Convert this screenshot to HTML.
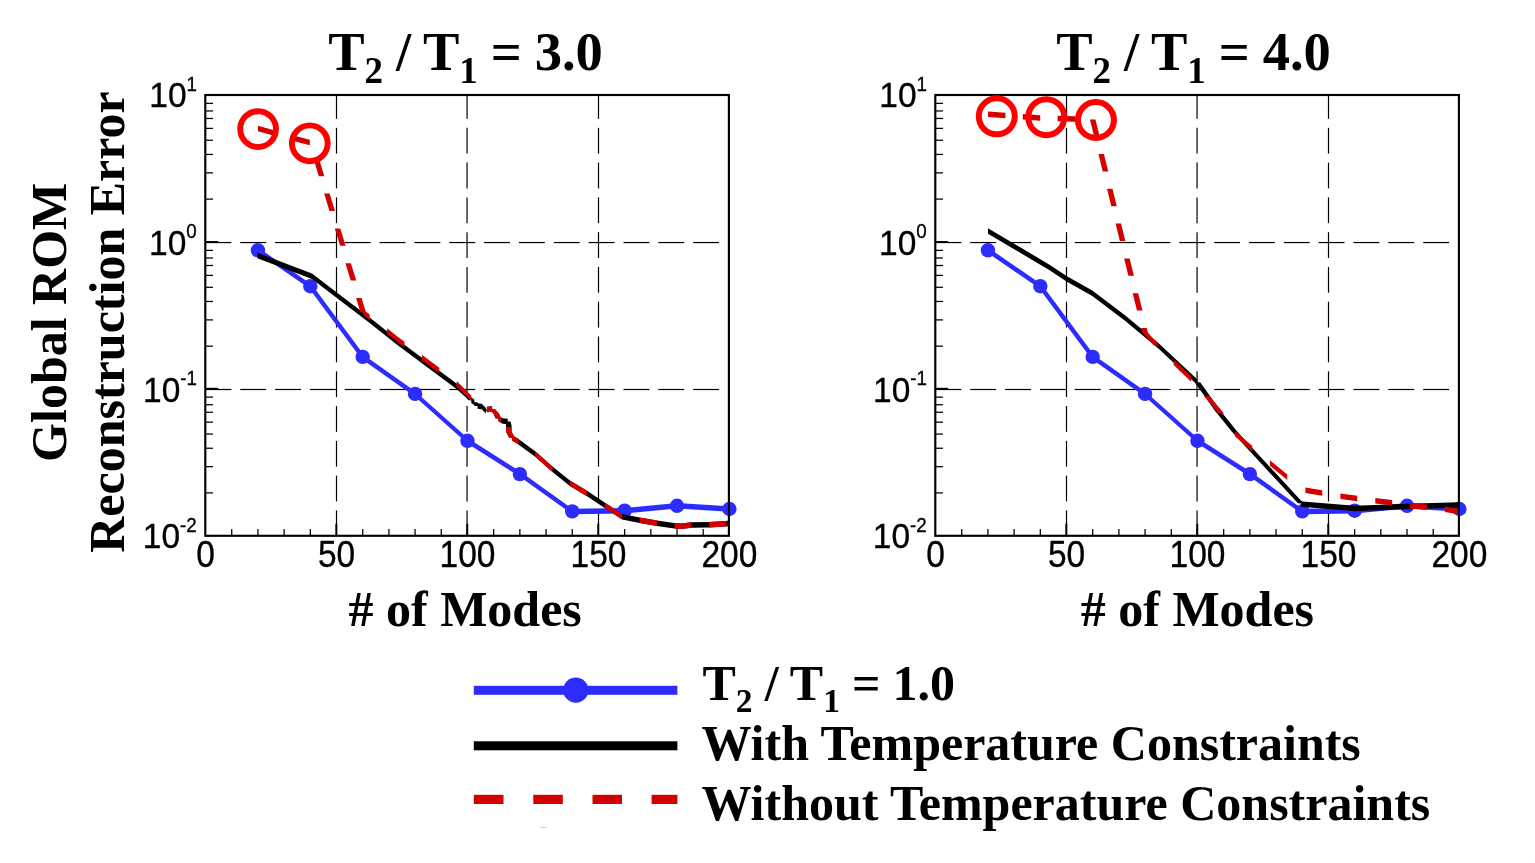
<!DOCTYPE html>
<html lang="en">
<head>
<meta charset="utf-8">
<title>Global ROM Reconstruction Error vs # of Modes</title>
<style>
html,body{margin:0;padding:0;background:#fff;}
body{width:1535px;height:863px;overflow:hidden;}
svg{display:block;}
text{fill:#000;}
</style>
</head>
<body>
<svg width="1535" height="863" viewBox="0 0 1535 863">
<rect x="0" y="0" width="1535" height="863" fill="#fff"/>
<g stroke="#000" stroke-width="1.2" fill="none"><line x1="336.5" y1="510.4" x2="336.5" y2="535.8"/><line x1="336.5" y1="475.62" x2="336.5" y2="501.42"/><line x1="336.5" y1="440.84" x2="336.5" y2="466.64"/><line x1="336.5" y1="406.06" x2="336.5" y2="431.86"/><line x1="336.5" y1="371.28" x2="336.5" y2="397.08"/><line x1="336.5" y1="336.5" x2="336.5" y2="362.3"/><line x1="336.5" y1="301.72" x2="336.5" y2="327.52"/><line x1="336.5" y1="266.94" x2="336.5" y2="292.74"/><line x1="336.5" y1="232.16" x2="336.5" y2="257.96"/><line x1="336.5" y1="197.38" x2="336.5" y2="223.18"/><line x1="336.5" y1="162.6" x2="336.5" y2="188.4"/><line x1="336.5" y1="127.82" x2="336.5" y2="153.62"/><line x1="336.5" y1="95" x2="336.5" y2="118.84"/><line x1="467.05" y1="510.4" x2="467.05" y2="535.8"/><line x1="467.05" y1="475.62" x2="467.05" y2="501.42"/><line x1="467.05" y1="440.84" x2="467.05" y2="466.64"/><line x1="467.05" y1="406.06" x2="467.05" y2="431.86"/><line x1="467.05" y1="371.28" x2="467.05" y2="397.08"/><line x1="467.05" y1="336.5" x2="467.05" y2="362.3"/><line x1="467.05" y1="301.72" x2="467.05" y2="327.52"/><line x1="467.05" y1="266.94" x2="467.05" y2="292.74"/><line x1="467.05" y1="232.16" x2="467.05" y2="257.96"/><line x1="467.05" y1="197.38" x2="467.05" y2="223.18"/><line x1="467.05" y1="162.6" x2="467.05" y2="188.4"/><line x1="467.05" y1="127.82" x2="467.05" y2="153.62"/><line x1="467.05" y1="95" x2="467.05" y2="118.84"/><line x1="598.5" y1="510.4" x2="598.5" y2="535.8"/><line x1="598.5" y1="475.62" x2="598.5" y2="501.42"/><line x1="598.5" y1="440.84" x2="598.5" y2="466.64"/><line x1="598.5" y1="406.06" x2="598.5" y2="431.86"/><line x1="598.5" y1="371.28" x2="598.5" y2="397.08"/><line x1="598.5" y1="336.5" x2="598.5" y2="362.3"/><line x1="598.5" y1="301.72" x2="598.5" y2="327.52"/><line x1="598.5" y1="266.94" x2="598.5" y2="292.74"/><line x1="598.5" y1="232.16" x2="598.5" y2="257.96"/><line x1="598.5" y1="197.38" x2="598.5" y2="223.18"/><line x1="598.5" y1="162.6" x2="598.5" y2="188.4"/><line x1="598.5" y1="127.82" x2="598.5" y2="153.62"/><line x1="598.5" y1="95" x2="598.5" y2="118.84"/><line x1="205.4" y1="242.55" x2="231.3" y2="242.55"/><line x1="240.24" y1="242.55" x2="266.14" y2="242.55"/><line x1="275.08" y1="242.55" x2="300.98" y2="242.55"/><line x1="309.92" y1="242.55" x2="335.82" y2="242.55"/><line x1="344.76" y1="242.55" x2="370.66" y2="242.55"/><line x1="379.6" y1="242.55" x2="405.5" y2="242.55"/><line x1="414.44" y1="242.55" x2="440.34" y2="242.55"/><line x1="449.28" y1="242.55" x2="475.18" y2="242.55"/><line x1="484.12" y1="242.55" x2="510.02" y2="242.55"/><line x1="518.96" y1="242.55" x2="544.86" y2="242.55"/><line x1="553.8" y1="242.55" x2="579.7" y2="242.55"/><line x1="588.64" y1="242.55" x2="614.54" y2="242.55"/><line x1="623.48" y1="242.55" x2="649.38" y2="242.55"/><line x1="658.32" y1="242.55" x2="684.22" y2="242.55"/><line x1="693.16" y1="242.55" x2="719.06" y2="242.55"/><line x1="728" y1="242.55" x2="728.9" y2="242.55"/><line x1="205.4" y1="389.5" x2="231.3" y2="389.5"/><line x1="240.24" y1="389.5" x2="266.14" y2="389.5"/><line x1="275.08" y1="389.5" x2="300.98" y2="389.5"/><line x1="309.92" y1="389.5" x2="335.82" y2="389.5"/><line x1="344.76" y1="389.5" x2="370.66" y2="389.5"/><line x1="379.6" y1="389.5" x2="405.5" y2="389.5"/><line x1="414.44" y1="389.5" x2="440.34" y2="389.5"/><line x1="449.28" y1="389.5" x2="475.18" y2="389.5"/><line x1="484.12" y1="389.5" x2="510.02" y2="389.5"/><line x1="518.96" y1="389.5" x2="544.86" y2="389.5"/><line x1="553.8" y1="389.5" x2="579.7" y2="389.5"/><line x1="588.64" y1="389.5" x2="614.54" y2="389.5"/><line x1="623.48" y1="389.5" x2="649.38" y2="389.5"/><line x1="658.32" y1="389.5" x2="684.22" y2="389.5"/><line x1="693.16" y1="389.5" x2="719.06" y2="389.5"/><line x1="728" y1="389.5" x2="728.9" y2="389.5"/></g>
<g stroke="#000" stroke-width="1.25" fill="none"><line x1="231.74" y1="535.8" x2="231.74" y2="529.1"/><line x1="257.94" y1="535.8" x2="257.94" y2="529.1"/><line x1="284.13" y1="535.8" x2="284.13" y2="529.1"/><line x1="310.32" y1="535.8" x2="310.32" y2="529.1"/><line x1="336.31" y1="535.8" x2="336.31" y2="523.7" stroke-width="1.9"/><line x1="362.71" y1="535.8" x2="362.71" y2="529.1"/><line x1="388.9" y1="535.8" x2="388.9" y2="529.1"/><line x1="415.09" y1="535.8" x2="415.09" y2="529.1"/><line x1="441.29" y1="535.8" x2="441.29" y2="529.1"/><line x1="467.28" y1="535.8" x2="467.28" y2="523.7" stroke-width="1.9"/><line x1="493.67" y1="535.8" x2="493.67" y2="529.1"/><line x1="519.87" y1="535.8" x2="519.87" y2="529.1"/><line x1="546.06" y1="535.8" x2="546.06" y2="529.1"/><line x1="572.25" y1="535.8" x2="572.25" y2="529.1"/><line x1="598.24" y1="535.8" x2="598.24" y2="523.7" stroke-width="1.9"/><line x1="624.64" y1="535.8" x2="624.64" y2="529.1"/><line x1="650.83" y1="535.8" x2="650.83" y2="529.1"/><line x1="677.02" y1="535.8" x2="677.02" y2="529.1"/><line x1="703.22" y1="535.8" x2="703.22" y2="529.1"/><line x1="205.3" y1="103.34" x2="213" y2="103.34"/><line x1="205.3" y1="110.95" x2="213" y2="110.95"/><line x1="205.3" y1="118.46" x2="213" y2="118.46"/><line x1="205.3" y1="128.38" x2="213" y2="128.38"/><line x1="205.3" y1="140.25" x2="213" y2="140.25"/><line x1="205.3" y1="154.44" x2="213" y2="154.44"/><line x1="205.3" y1="172.87" x2="213" y2="172.87"/><line x1="205.3" y1="199.11" x2="213" y2="199.11"/><line x1="205.3" y1="242.03" x2="218.2" y2="242.03" stroke-width="2"/><line x1="205.3" y1="250.37" x2="213" y2="250.37"/><line x1="205.3" y1="257.98" x2="213" y2="257.98"/><line x1="205.3" y1="265.49" x2="213" y2="265.49"/><line x1="205.3" y1="275.41" x2="213" y2="275.41"/><line x1="205.3" y1="287.28" x2="213" y2="287.28"/><line x1="205.3" y1="301.47" x2="213" y2="301.47"/><line x1="205.3" y1="319.9" x2="213" y2="319.9"/><line x1="205.3" y1="346.14" x2="213" y2="346.14"/><line x1="205.3" y1="388.8" x2="218.2" y2="388.8" stroke-width="2"/><line x1="205.3" y1="397.14" x2="213" y2="397.14"/><line x1="205.3" y1="404.75" x2="213" y2="404.75"/><line x1="205.3" y1="412.26" x2="213" y2="412.26"/><line x1="205.3" y1="422.18" x2="213" y2="422.18"/><line x1="205.3" y1="434.05" x2="213" y2="434.05"/><line x1="205.3" y1="448.24" x2="213" y2="448.24"/><line x1="205.3" y1="466.67" x2="213" y2="466.67"/><line x1="205.3" y1="492.91" x2="213" y2="492.91"/></g>
<path d="M310.32 283.45 L310.32 288.95 L257.94 253.05 L257.94 247.55Z M307.57 286.2 L313.07 286.2 L365.46 356.9 L359.96 356.9Z M415.09 391.15 L415.09 396.65 L362.71 359.65 L362.71 354.15Z M467.48 438.05 L467.48 443.55 L415.09 396.65 L415.09 391.15Z M519.87 471.35 L519.87 476.85 L467.48 443.55 L467.48 438.05Z M572.25 508.65 L572.25 514.15 L519.87 476.85 L519.87 471.35Z M624.64 507.95 L624.64 513.45 L572.25 514.15 L572.25 508.65Z M677.02 503.05 L677.02 508.55 L624.64 513.45 L624.64 507.95Z M729.41 506.25 L729.41 511.75 L677.02 508.55 L677.02 503.05Z" fill="#2c2cff"/>
<g fill="#2c2cff"><circle cx="257.94" cy="250.3" r="7.2"/><circle cx="310.32" cy="286.2" r="7.2"/><circle cx="362.71" cy="356.9" r="7.2"/><circle cx="415.09" cy="393.9" r="7.2"/><circle cx="467.48" cy="440.8" r="7.2"/><circle cx="519.87" cy="474.1" r="7.2"/><circle cx="572.25" cy="511.4" r="7.2"/><circle cx="624.64" cy="510.7" r="7.2"/><circle cx="677.02" cy="505.8" r="7.2"/><circle cx="729.41" cy="509" r="7.2"/></g>
<path d="M312 273.45 L312 278.95 L257.4 258.25 L257.4 252.75Z M336.2 291.95 L336.2 297.45 L312 278.95 L312 273.45Z M368.4 316.45 L368.4 321.95 L336.2 297.45 L336.2 291.95Z M397.7 339.65 L397.7 345.15 L368.4 321.95 L368.4 316.45Z M456.2 383.15 L456.2 388.65 L397.7 345.15 L397.7 339.65Z M467.1 393.05 L467.1 398.55 L456.2 388.65 L456.2 383.15Z M464.35 395.8 L469.85 395.8 L474.05 400.2 L468.55 400.2Z M474.4 399.55 L474.4 405.05 L471.3 402.95 L471.3 397.45Z M471.65 402.3 L477.15 402.3 L480.25 406 L474.75 406Z M481.7 403.75 L481.7 409.25 L477.5 408.75 L477.5 403.25Z M485.9 407.95 L485.9 413.45 L481.7 409.25 L481.7 403.75Z M484.15 409.6 L489.65 409.6 L488.65 410.7 L483.15 410.7Z M492.1 406.35 L492.1 411.85 L486.9 412.35 L486.9 406.85Z M489.35 409.1 L494.85 409.1 L499.05 413.8 L493.55 413.8Z M493.55 413.8 L499.05 413.8 L501.15 418.5 L495.65 418.5Z M502.6 418.35 L502.6 423.85 L498.4 421.25 L498.4 415.75Z M507.8 418.85 L507.8 424.35 L502.6 423.85 L502.6 418.35Z M505.05 421.6 L510.55 421.6 L511.55 425.8 L506.05 425.8Z M506.05 425.8 L511.55 425.8 L511.55 431.5 L506.05 431.5Z M506.05 431.5 L511.55 431.5 L514.65 437.8 L509.15 437.8Z M517.4 438.15 L517.4 443.65 L511.9 440.55 L511.9 435.05Z M535.2 451.25 L535.2 456.75 L517.4 443.65 L517.4 438.15Z M552.8 466.85 L552.8 472.35 L535.2 456.75 L535.2 451.25Z M569.9 480.55 L569.9 486.05 L552.8 472.35 L552.8 466.85Z M587 490.85 L587 496.35 L569.9 486.05 L569.9 480.55Z M604.7 502.45 L604.7 507.95 L587 496.35 L587 490.85Z M622.1 513.95 L622.1 519.45 L604.7 507.95 L604.7 502.45Z M639.6 517.55 L639.6 523.05 L622.1 519.45 L622.1 513.95Z M657 520.55 L657 526.05 L639.6 523.05 L639.6 517.55Z M674.2 522.95 L674.2 528.45 L657 526.05 L657 520.55Z M680.9 523.45 L680.9 528.95 L674.2 528.45 L674.2 522.95Z M691.6 522.15 L691.6 527.65 L680.9 528.95 L680.9 523.45Z M709.2 521.95 L709.2 527.45 L691.6 527.65 L691.6 522.15Z M728 520.85 L728 526.35 L709.2 527.45 L709.2 521.95Z" fill="#000"/>
<path d="M275 130.45 L275 135.95 L257.9 131.35 L257.9 125.85Z M309.8 139.82 L309.8 145.32 L292.4 140.64 L292.4 135.14Z M313.48 158.8 L318.98 158.8 L324.31 176.2 L318.81 176.2Z M324.13 193.6 L329.63 193.6 L334.96 211 L329.46 211Z M334.78 228.4 L340.28 228.4 L345.6 245.8 L340.1 245.8Z M345.43 263.2 L350.93 263.2 L356.25 280.6 L350.75 280.6Z M356.07 298 L361.57 298 L365.95 312.3 L360.45 312.3Z M368.4 313.45 L368.4 318.95 L363.2 315.05 L363.2 309.55Z M369.7 314.48 L369.7 319.98 L368.4 318.95 L368.4 313.45Z M397.7 336.65 L397.7 342.15 L387.1 333.76 L387.1 328.26Z M404.5 341.75 L404.5 347.25 L397.7 342.15 L397.7 336.65Z M439.3 367.87 L439.3 373.37 L421.9 360.31 L421.9 354.81Z M471.3 395.45 L471.3 400.95 L456.7 386.54 L456.7 381.04Z M492.1 406.35 L492.1 411.85 L486.9 412.35 L486.9 406.85Z M489.35 409.1 L494.85 409.1 L499.05 413.8 L493.55 413.8Z M493.55 413.8 L499.05 413.8 L501.15 418.5 L495.65 418.5Z M501.2 417.48 L501.2 422.98 L498.4 421.25 L498.4 415.75Z M505.85 427 L511.35 427 L511.55 431.5 L506.05 431.5Z M506.05 431.5 L511.55 431.5 L514.65 437.8 L509.15 437.8Z M517.4 438.15 L517.4 443.65 L511.9 440.55 L511.9 435.05Z M518.5 438.74 L518.5 444.24 L517.4 443.65 L517.4 438.15Z M552.6 466.67 L552.6 472.17 L535.2 456.75 L535.2 451.25Z M587 490.85 L587 496.35 L570 486.11 L570 480.61Z M622.1 513.95 L622.1 519.45 L604.8 508.02 L604.8 502.52Z M657 520.55 L657 526.05 L639.6 523.05 L639.6 517.55Z M680.9 523.45 L680.9 528.95 L674.4 528.46 L674.4 522.96Z M691.6 522.15 L691.6 527.65 L680.9 528.95 L680.9 523.45Z M726.6 520.93 L726.6 526.43 L709.2 527.45 L709.2 521.95Z" fill="#d20000"/>
<rect x="205.3" y="95" width="523.6" height="440.8" fill="none" stroke="#000" stroke-width="2.15"/>
<g fill="none" stroke="#ff0000" stroke-width="5.9"><circle cx="258.1" cy="129.1" r="17.9"/><circle cx="309.8" cy="143.3" r="17.9"/></g>
<g stroke="#000" stroke-width="1.2" fill="none"><line x1="1066.5" y1="510.4" x2="1066.5" y2="535.8"/><line x1="1066.5" y1="475.62" x2="1066.5" y2="501.42"/><line x1="1066.5" y1="440.84" x2="1066.5" y2="466.64"/><line x1="1066.5" y1="406.06" x2="1066.5" y2="431.86"/><line x1="1066.5" y1="371.28" x2="1066.5" y2="397.08"/><line x1="1066.5" y1="336.5" x2="1066.5" y2="362.3"/><line x1="1066.5" y1="301.72" x2="1066.5" y2="327.52"/><line x1="1066.5" y1="266.94" x2="1066.5" y2="292.74"/><line x1="1066.5" y1="232.16" x2="1066.5" y2="257.96"/><line x1="1066.5" y1="197.38" x2="1066.5" y2="223.18"/><line x1="1066.5" y1="162.6" x2="1066.5" y2="188.4"/><line x1="1066.5" y1="127.82" x2="1066.5" y2="153.62"/><line x1="1066.5" y1="95" x2="1066.5" y2="118.84"/><line x1="1197.05" y1="510.4" x2="1197.05" y2="535.8"/><line x1="1197.05" y1="475.62" x2="1197.05" y2="501.42"/><line x1="1197.05" y1="440.84" x2="1197.05" y2="466.64"/><line x1="1197.05" y1="406.06" x2="1197.05" y2="431.86"/><line x1="1197.05" y1="371.28" x2="1197.05" y2="397.08"/><line x1="1197.05" y1="336.5" x2="1197.05" y2="362.3"/><line x1="1197.05" y1="301.72" x2="1197.05" y2="327.52"/><line x1="1197.05" y1="266.94" x2="1197.05" y2="292.74"/><line x1="1197.05" y1="232.16" x2="1197.05" y2="257.96"/><line x1="1197.05" y1="197.38" x2="1197.05" y2="223.18"/><line x1="1197.05" y1="162.6" x2="1197.05" y2="188.4"/><line x1="1197.05" y1="127.82" x2="1197.05" y2="153.62"/><line x1="1197.05" y1="95" x2="1197.05" y2="118.84"/><line x1="1328.5" y1="510.4" x2="1328.5" y2="535.8"/><line x1="1328.5" y1="475.62" x2="1328.5" y2="501.42"/><line x1="1328.5" y1="440.84" x2="1328.5" y2="466.64"/><line x1="1328.5" y1="406.06" x2="1328.5" y2="431.86"/><line x1="1328.5" y1="371.28" x2="1328.5" y2="397.08"/><line x1="1328.5" y1="336.5" x2="1328.5" y2="362.3"/><line x1="1328.5" y1="301.72" x2="1328.5" y2="327.52"/><line x1="1328.5" y1="266.94" x2="1328.5" y2="292.74"/><line x1="1328.5" y1="232.16" x2="1328.5" y2="257.96"/><line x1="1328.5" y1="197.38" x2="1328.5" y2="223.18"/><line x1="1328.5" y1="162.6" x2="1328.5" y2="188.4"/><line x1="1328.5" y1="127.82" x2="1328.5" y2="153.62"/><line x1="1328.5" y1="95" x2="1328.5" y2="118.84"/><line x1="935.4" y1="242.55" x2="961.3" y2="242.55"/><line x1="970.24" y1="242.55" x2="996.14" y2="242.55"/><line x1="1005.08" y1="242.55" x2="1030.98" y2="242.55"/><line x1="1039.92" y1="242.55" x2="1065.82" y2="242.55"/><line x1="1074.76" y1="242.55" x2="1100.66" y2="242.55"/><line x1="1109.6" y1="242.55" x2="1135.5" y2="242.55"/><line x1="1144.44" y1="242.55" x2="1170.34" y2="242.55"/><line x1="1179.28" y1="242.55" x2="1205.18" y2="242.55"/><line x1="1214.12" y1="242.55" x2="1240.02" y2="242.55"/><line x1="1248.96" y1="242.55" x2="1274.86" y2="242.55"/><line x1="1283.8" y1="242.55" x2="1309.7" y2="242.55"/><line x1="1318.64" y1="242.55" x2="1344.54" y2="242.55"/><line x1="1353.48" y1="242.55" x2="1379.38" y2="242.55"/><line x1="1388.32" y1="242.55" x2="1414.22" y2="242.55"/><line x1="1423.16" y1="242.55" x2="1449.06" y2="242.55"/><line x1="1458" y1="242.55" x2="1458.9" y2="242.55"/><line x1="935.4" y1="389.5" x2="961.3" y2="389.5"/><line x1="970.24" y1="389.5" x2="996.14" y2="389.5"/><line x1="1005.08" y1="389.5" x2="1030.98" y2="389.5"/><line x1="1039.92" y1="389.5" x2="1065.82" y2="389.5"/><line x1="1074.76" y1="389.5" x2="1100.66" y2="389.5"/><line x1="1109.6" y1="389.5" x2="1135.5" y2="389.5"/><line x1="1144.44" y1="389.5" x2="1170.34" y2="389.5"/><line x1="1179.28" y1="389.5" x2="1205.18" y2="389.5"/><line x1="1214.12" y1="389.5" x2="1240.02" y2="389.5"/><line x1="1248.96" y1="389.5" x2="1274.86" y2="389.5"/><line x1="1283.8" y1="389.5" x2="1309.7" y2="389.5"/><line x1="1318.64" y1="389.5" x2="1344.54" y2="389.5"/><line x1="1353.48" y1="389.5" x2="1379.38" y2="389.5"/><line x1="1388.32" y1="389.5" x2="1414.22" y2="389.5"/><line x1="1423.16" y1="389.5" x2="1449.06" y2="389.5"/><line x1="1458" y1="389.5" x2="1458.9" y2="389.5"/></g>
<g stroke="#000" stroke-width="1.25" fill="none"><line x1="961.74" y1="535.8" x2="961.74" y2="529.1"/><line x1="987.94" y1="535.8" x2="987.94" y2="529.1"/><line x1="1014.13" y1="535.8" x2="1014.13" y2="529.1"/><line x1="1040.32" y1="535.8" x2="1040.32" y2="529.1"/><line x1="1066.31" y1="535.8" x2="1066.31" y2="523.7" stroke-width="1.9"/><line x1="1092.71" y1="535.8" x2="1092.71" y2="529.1"/><line x1="1118.9" y1="535.8" x2="1118.9" y2="529.1"/><line x1="1145.09" y1="535.8" x2="1145.09" y2="529.1"/><line x1="1171.29" y1="535.8" x2="1171.29" y2="529.1"/><line x1="1197.28" y1="535.8" x2="1197.28" y2="523.7" stroke-width="1.9"/><line x1="1223.67" y1="535.8" x2="1223.67" y2="529.1"/><line x1="1249.87" y1="535.8" x2="1249.87" y2="529.1"/><line x1="1276.06" y1="535.8" x2="1276.06" y2="529.1"/><line x1="1302.25" y1="535.8" x2="1302.25" y2="529.1"/><line x1="1328.24" y1="535.8" x2="1328.24" y2="523.7" stroke-width="1.9"/><line x1="1354.64" y1="535.8" x2="1354.64" y2="529.1"/><line x1="1380.83" y1="535.8" x2="1380.83" y2="529.1"/><line x1="1407.02" y1="535.8" x2="1407.02" y2="529.1"/><line x1="1433.22" y1="535.8" x2="1433.22" y2="529.1"/><line x1="935.3" y1="103.34" x2="943" y2="103.34"/><line x1="935.3" y1="110.95" x2="943" y2="110.95"/><line x1="935.3" y1="118.46" x2="943" y2="118.46"/><line x1="935.3" y1="128.38" x2="943" y2="128.38"/><line x1="935.3" y1="140.25" x2="943" y2="140.25"/><line x1="935.3" y1="154.44" x2="943" y2="154.44"/><line x1="935.3" y1="172.87" x2="943" y2="172.87"/><line x1="935.3" y1="199.11" x2="943" y2="199.11"/><line x1="935.3" y1="242.03" x2="948.2" y2="242.03" stroke-width="2"/><line x1="935.3" y1="250.37" x2="943" y2="250.37"/><line x1="935.3" y1="257.98" x2="943" y2="257.98"/><line x1="935.3" y1="265.49" x2="943" y2="265.49"/><line x1="935.3" y1="275.41" x2="943" y2="275.41"/><line x1="935.3" y1="287.28" x2="943" y2="287.28"/><line x1="935.3" y1="301.47" x2="943" y2="301.47"/><line x1="935.3" y1="319.9" x2="943" y2="319.9"/><line x1="935.3" y1="346.14" x2="943" y2="346.14"/><line x1="935.3" y1="388.8" x2="948.2" y2="388.8" stroke-width="2"/><line x1="935.3" y1="397.14" x2="943" y2="397.14"/><line x1="935.3" y1="404.75" x2="943" y2="404.75"/><line x1="935.3" y1="412.26" x2="943" y2="412.26"/><line x1="935.3" y1="422.18" x2="943" y2="422.18"/><line x1="935.3" y1="434.05" x2="943" y2="434.05"/><line x1="935.3" y1="448.24" x2="943" y2="448.24"/><line x1="935.3" y1="466.67" x2="943" y2="466.67"/><line x1="935.3" y1="492.91" x2="943" y2="492.91"/></g>
<path d="M1040.32 283.45 L1040.32 288.95 L987.94 253.05 L987.94 247.55Z M1037.57 286.2 L1043.07 286.2 L1095.46 356.9 L1089.96 356.9Z M1145.09 391.15 L1145.09 396.65 L1092.71 359.65 L1092.71 354.15Z M1197.48 438.05 L1197.48 443.55 L1145.09 396.65 L1145.09 391.15Z M1249.87 471.35 L1249.87 476.85 L1197.48 443.55 L1197.48 438.05Z M1302.25 508.65 L1302.25 514.15 L1249.87 476.85 L1249.87 471.35Z M1354.64 507.95 L1354.64 513.45 L1302.25 514.15 L1302.25 508.65Z M1407.02 503.05 L1407.02 508.55 L1354.64 513.45 L1354.64 507.95Z M1459.41 506.25 L1459.41 511.75 L1407.02 508.55 L1407.02 503.05Z" fill="#2c2cff"/>
<g fill="#2c2cff"><circle cx="987.94" cy="250.3" r="7.2"/><circle cx="1040.32" cy="286.2" r="7.2"/><circle cx="1092.71" cy="356.9" r="7.2"/><circle cx="1145.09" cy="393.9" r="7.2"/><circle cx="1197.48" cy="440.8" r="7.2"/><circle cx="1249.87" cy="474.1" r="7.2"/><circle cx="1302.25" cy="511.4" r="7.2"/><circle cx="1354.64" cy="510.7" r="7.2"/><circle cx="1407.02" cy="505.8" r="7.2"/><circle cx="1459.41" cy="509" r="7.2"/></g>
<path d="M1050 264.95 L1050 270.45 L988 233.75 L988 228.25Z M1066.5 276.05 L1066.5 281.55 L1050 270.45 L1050 264.95Z M1092.3 290.45 L1092.3 295.95 L1066.5 281.55 L1066.5 276.05Z M1125 315.25 L1125 320.75 L1092.3 295.95 L1092.3 290.45Z M1158.4 342.95 L1158.4 348.45 L1125 320.75 L1125 315.25Z M1197.4 379.55 L1197.4 385.05 L1158.4 348.45 L1158.4 342.95Z M1194.65 382.3 L1200.15 382.3 L1220.65 411.1 L1215.15 411.1Z M1215.15 411.1 L1220.65 411.1 L1237.15 431.5 L1231.65 431.5Z M1231.65 431.5 L1237.15 431.5 L1303.45 503.3 L1297.95 503.3Z M1302.6 501.45 L1302.6 506.95 L1300.7 506.05 L1300.7 500.55Z M1355 505.65 L1355 511.15 L1302.6 506.95 L1302.6 501.45Z M1406.7 503.65 L1406.7 509.15 L1355 511.15 L1355 505.65Z M1458.5 502.25 L1458.5 507.75 L1406.7 509.15 L1406.7 503.65Z" fill="#000"/>
<path d="M1005.4 112.71 L1005.4 118.21 L988 116.95 L988 111.45Z M1040.2 115.24 L1040.2 120.74 L1022.8 119.48 L1022.8 113.98Z M1075 116.24 L1075 121.74 L1057.6 121.25 L1057.6 115.75Z M1089.95 119.5 L1095.45 119.5 L1099.66 136.6 L1094.16 136.6Z M1098.44 154 L1103.94 154 L1108.22 171.4 L1102.72 171.4Z M1107 188.8 L1112.5 188.8 L1116.78 206.2 L1111.28 206.2Z M1115.56 223.6 L1121.06 223.6 L1125.34 241 L1119.84 241Z M1124.12 258.4 L1129.62 258.4 L1133.9 275.8 L1128.4 275.8Z M1132.68 293.2 L1138.18 293.2 L1142.46 310.6 L1136.96 310.6Z M1141.24 328 L1146.74 328 L1147.85 332.5 L1142.35 332.5Z M1142.35 332.5 L1147.85 332.5 L1159.29 345.4 L1153.79 345.4Z M1191.1 376.19 L1191.1 381.69 L1173.7 364.96 L1173.7 359.46Z M1203.96 396.1 L1209.46 396.1 L1224.04 413.5 L1218.54 413.5Z M1252.3 445.94 L1252.3 451.44 L1234.9 436.15 L1234.9 430.65Z M1270.55 460.75 L1270.55 466.25 L1269.88 465.71 L1269.88 460.21Z M1287.28 474.54 L1287.28 480.04 L1270.55 466.25 L1270.55 460.75Z M1322.26 490.16 L1322.26 495.66 L1305.4 492.95 L1305.4 487.45Z M1357.24 495.82 L1357.24 501.32 L1340.4 499.05 L1340.4 493.55Z M1392.22 500.04 L1392.22 505.54 L1375.3 503.55 L1375.3 498.05Z M1427.1 504.45 L1427.1 509.95 L1410.1 508.45 L1410.1 502.95Z M1458.5 508.75 L1458.5 514.25 L1444.8 511.95 L1444.8 506.45Z" fill="#d20000"/>
<rect x="935.3" y="95" width="523.6" height="440.8" fill="none" stroke="#000" stroke-width="2.15"/>
<g fill="none" stroke="#ff0000" stroke-width="6"><circle cx="996.8" cy="116.3" r="18"/><circle cx="1046.3" cy="117.2" r="18"/><circle cx="1095.9" cy="120" r="18"/></g>
<text transform="translate(197 107.3) scale(1 1.06)" text-anchor="end" font-family="'Liberation Sans', Arial, sans-serif" font-size="33.5" stroke="#000" stroke-width="0.3">10<tspan dy="-15.5" font-size="18.8">1</tspan></text>
<text transform="translate(196.8 254.85) scale(1 1.06)" text-anchor="end" font-family="'Liberation Sans', Arial, sans-serif" font-size="33.5" stroke="#000" stroke-width="0.3">10<tspan dy="-15.5" font-size="18.8">0</tspan></text>
<text transform="translate(197 401.8) scale(1 1.06)" text-anchor="end" font-family="'Liberation Sans', Arial, sans-serif" font-size="33.5" stroke="#000" stroke-width="0.3">10<tspan dy="-15.5" font-size="18.8">-1</tspan></text>
<text transform="translate(196.8 548.1) scale(1 1.06)" text-anchor="end" font-family="'Liberation Sans', Arial, sans-serif" font-size="33.5" stroke="#000" stroke-width="0.3">10<tspan dy="-15.5" font-size="18.8">-2</tspan></text>
<text transform="translate(205.55 566.8) scale(1 1.085)" text-anchor="middle" font-family="'Liberation Sans', Arial, sans-serif" font-size="33.5" stroke="#000" stroke-width="0.3">0</text>
<text transform="translate(336.51 566.8) scale(1 1.085)" text-anchor="middle" font-family="'Liberation Sans', Arial, sans-serif" font-size="33.5" stroke="#000" stroke-width="0.3">50</text>
<text transform="translate(467.48 566.8) scale(1 1.085)" text-anchor="middle" font-family="'Liberation Sans', Arial, sans-serif" font-size="33.5" stroke="#000" stroke-width="0.3">100</text>
<text transform="translate(598.44 566.8) scale(1 1.085)" text-anchor="middle" font-family="'Liberation Sans', Arial, sans-serif" font-size="33.5" stroke="#000" stroke-width="0.3">150</text>
<text transform="translate(729.41 566.8) scale(1 1.085)" text-anchor="middle" font-family="'Liberation Sans', Arial, sans-serif" font-size="33.5" stroke="#000" stroke-width="0.3">200</text>
<text transform="translate(927 107.3) scale(1 1.06)" text-anchor="end" font-family="'Liberation Sans', Arial, sans-serif" font-size="33.5" stroke="#000" stroke-width="0.3">10<tspan dy="-15.5" font-size="18.8">1</tspan></text>
<text transform="translate(926.8 254.85) scale(1 1.06)" text-anchor="end" font-family="'Liberation Sans', Arial, sans-serif" font-size="33.5" stroke="#000" stroke-width="0.3">10<tspan dy="-15.5" font-size="18.8">0</tspan></text>
<text transform="translate(927 401.8) scale(1 1.06)" text-anchor="end" font-family="'Liberation Sans', Arial, sans-serif" font-size="33.5" stroke="#000" stroke-width="0.3">10<tspan dy="-15.5" font-size="18.8">-1</tspan></text>
<text transform="translate(926.8 548.1) scale(1 1.06)" text-anchor="end" font-family="'Liberation Sans', Arial, sans-serif" font-size="33.5" stroke="#000" stroke-width="0.3">10<tspan dy="-15.5" font-size="18.8">-2</tspan></text>
<text transform="translate(935.55 566.8) scale(1 1.085)" text-anchor="middle" font-family="'Liberation Sans', Arial, sans-serif" font-size="33.5" stroke="#000" stroke-width="0.3">0</text>
<text transform="translate(1066.51 566.8) scale(1 1.085)" text-anchor="middle" font-family="'Liberation Sans', Arial, sans-serif" font-size="33.5" stroke="#000" stroke-width="0.3">50</text>
<text transform="translate(1197.48 566.8) scale(1 1.085)" text-anchor="middle" font-family="'Liberation Sans', Arial, sans-serif" font-size="33.5" stroke="#000" stroke-width="0.3">100</text>
<text transform="translate(1328.44 566.8) scale(1 1.085)" text-anchor="middle" font-family="'Liberation Sans', Arial, sans-serif" font-size="33.5" stroke="#000" stroke-width="0.3">150</text>
<text transform="translate(1459.41 566.8) scale(1 1.085)" text-anchor="middle" font-family="'Liberation Sans', Arial, sans-serif" font-size="33.5" stroke="#000" stroke-width="0.3">200</text>
<text x="465.5" y="70.0" text-anchor="middle" word-spacing="-0.7" font-family="'Liberation Serif', 'Times New Roman', serif" font-weight="bold" font-size="54.5">T<tspan dy="13" font-size="37">2</tspan><tspan dy="-13"> / T</tspan><tspan dy="13" font-size="37">1</tspan><tspan dy="-13"> = 3.0</tspan></text>
<text x="1193.5" y="70.0" text-anchor="middle" word-spacing="-0.7" font-family="'Liberation Serif', 'Times New Roman', serif" font-weight="bold" font-size="54.5">T<tspan dy="13" font-size="37">2</tspan><tspan dy="-13"> / T</tspan><tspan dy="13" font-size="37">1</tspan><tspan dy="-13"> = 4.0</tspan></text>
<text x="465.2" y="625.7" text-anchor="middle" font-family="'Liberation Serif', 'Times New Roman', serif" font-weight="bold" font-size="50"># of Modes</text>
<text x="1197.4" y="625.7" text-anchor="middle" font-family="'Liberation Serif', 'Times New Roman', serif" font-weight="bold" font-size="50"># of Modes</text>
<text transform="translate(65.9 322.3) rotate(-90)" text-anchor="middle" font-family="'Liberation Serif', 'Times New Roman', serif" font-weight="bold" font-size="50">Global ROM</text>
<text transform="translate(124.3 322) rotate(-90)" text-anchor="middle" font-family="'Liberation Serif', 'Times New Roman', serif" font-weight="bold" font-size="50">Reconstruction Error</text>
<rect x="473.8" y="685.8" width="203.6" height="9" fill="#2c2cff"/>
<circle cx="575.8" cy="690.2" r="12.6" fill="#2c2cff"/>
<rect x="473.8" y="741.3" width="203.6" height="9" fill="#000"/>
<rect x="473.8" y="794.8" width="29.7" height="9.2" fill="#d20000"/>
<rect x="533.3" y="794.8" width="29.5" height="9.2" fill="#d20000"/>
<rect x="592.5" y="794.8" width="29.5" height="9.2" fill="#d20000"/>
<rect x="651.6" y="794.8" width="25.8" height="9.2" fill="#d20000"/>
<text x="702.5" y="699.9" word-spacing="-0.4" font-family="'Liberation Serif', 'Times New Roman', serif" font-weight="bold" font-size="50">T<tspan dy="12" font-size="33.5">2</tspan><tspan dy="-12"> / T</tspan><tspan dy="12" font-size="33.5">1</tspan><tspan dy="-12"> = 1.0</tspan></text>
<text x="701.5" y="760.0" font-family="'Liberation Serif', 'Times New Roman', serif" font-weight="bold" font-size="50">With Temperature Constraints</text>
<text x="701.5" y="820.0" font-family="'Liberation Serif', 'Times New Roman', serif" font-weight="bold" font-size="50">Without Temperature Constraints</text>
<rect x="540.2" y="827" width="6" height="1" fill="#cfcfcf"/>
</svg>
</body>
</html>
